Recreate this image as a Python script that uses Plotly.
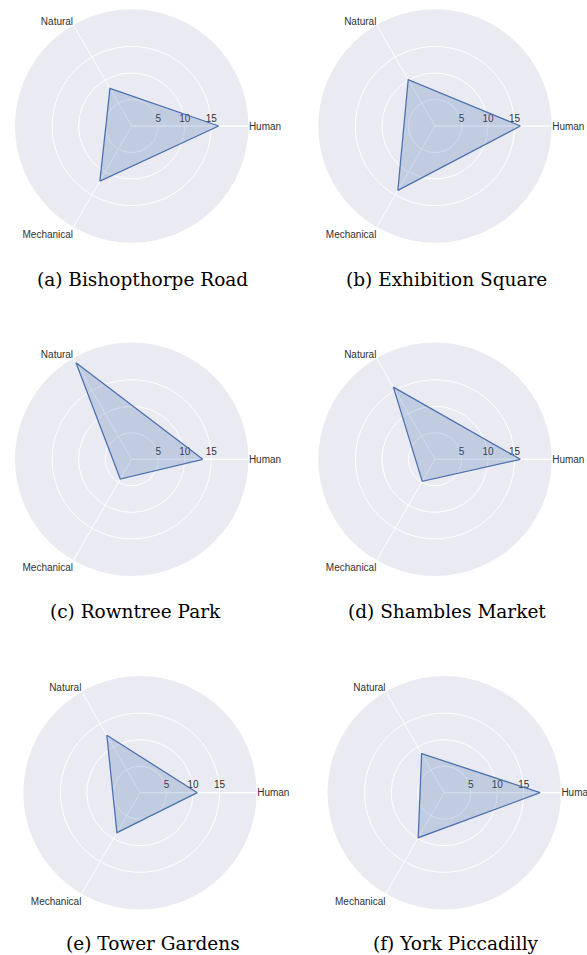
import plotly.graph_objects as go

# ---- data ----
categories = ["Human", "Natural", "Mechanical"]
sites = ["Bishopthorpe Road", "Exhibition Square", "Rowntree Park",
         "Shambles Market", "Tower Gardens", "York Piccadilly"]
letters = ["a", "b", "c", "d", "e", "f"]
human = [16.4, 16.1, 13.4, 16.1, 10.8, 18.1]
natural = [8.2, 10.1, 21.0, 15.7, 12.5, 8.5]
mechanical = [12.0, 14.0, 4.3, 4.8, 8.7, 9.8]
tick_vals = [5, 10, 15]
r_max = 22

# ---- layout geometry (page pixels) ----
W, H = 587, 955
R = 116.7
centers = [(131.7, 126.0), (435.0, 126.0),
           (131.7, 459.3), (435.0, 459.3),
           (140.0, 792.7), (444.2, 792.7)]
caption_pos = [(142.7, 279), (446.7, 279),
               (135.0, 611), (446.7, 611),
               (152.5, 943), (455.7, 943)]

line_col = "rgb(76,114,176)"
fill_col = "rgba(76,114,176,0.25)"
txt_col = "rgb(50,50,50)"

fig = go.Figure()
layout = dict(
    template="seaborn",
    width=W, height=H,
    margin=dict(l=0, r=0, t=0, b=0),
    paper_bgcolor="white",
    showlegend=False,
    font=dict(family="Liberation Sans, Arial, sans-serif", size=10, color=txt_col),
    annotations=[],
)

for i in range(6):
    key = "polar" if i == 0 else f"polar{i+1}"
    r = [human[i], natural[i], mechanical[i]]
    fig.add_trace(go.Scatterpolar(
        r=r + [r[0]], theta=categories + [categories[0]],
        mode="lines", fill="toself", fillcolor=fill_col,
        line=dict(color=line_col, width=1.3),
        subplot=key, hoverinfo="skip",
    ))
    cx, cy = centers[i]
    layout[key] = dict(
        domain=dict(x=[(cx - R) / W, (cx + R) / W],
                    y=[1 - (cy + R) / H, 1 - (cy - R) / H]),
        bgcolor="rgb(234,234,242)",
        radialaxis=dict(range=[0, r_max], tickvals=tick_vals, angle=0,
                        side="counterclockwise",
                        showline=True, linecolor="white", gridcolor="white",
                        ticks="", layer="below traces",
                        tickfont=dict(size=10, color=txt_col)),
        angularaxis=dict(direction="counterclockwise", rotation=0,
                         categoryarray=categories, categoryorder="array",
                         showline=False, gridcolor="white", ticks="",
                         layer="below traces",
                         tickfont=dict(size=10, color=txt_col)),
    )
    px, py = caption_pos[i]
    layout["annotations"].append(dict(
        text=f"({letters[i]}) {sites[i]}", x=px / W, y=1 - py / H,
        xref="paper", yref="paper", xanchor="center", yanchor="middle",
        showarrow=False,
        font=dict(family="DejaVu Serif, serif", size=18.5, color="black"),
    ))

fig.update_layout(**layout)
fig.write_html(
    "out.html",
    config={"displayModeBar": False},
    post_script="document.body.style.margin='0';document.body.style.overflow='hidden';",
)
